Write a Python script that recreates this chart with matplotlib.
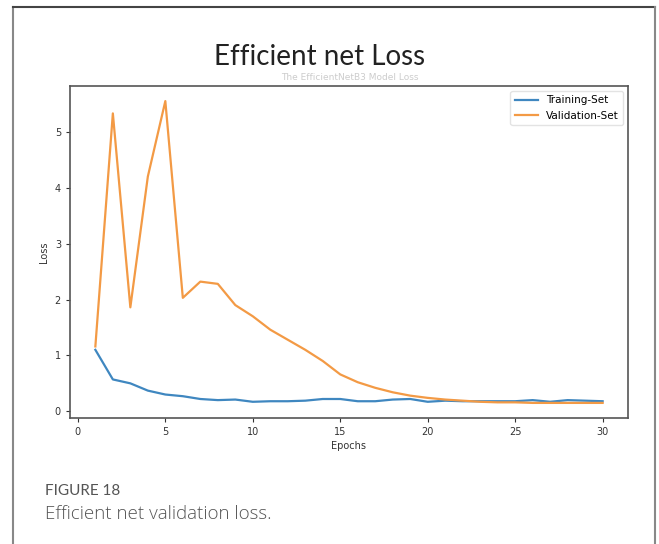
import numpy as np
import matplotlib
matplotlib.use('Agg')
import matplotlib.pyplot as plt
from matplotlib.lines import Line2D

# valeurs
epochs = list(range(1, 31))
train_loss = [1.10, 0.57, 0.50, 0.37, 0.30, 0.27, 0.22, 0.20, 0.21, 0.17,
              0.18, 0.18, 0.19, 0.22, 0.22, 0.18, 0.18, 0.21, 0.22, 0.17,
              0.19, 0.18, 0.18, 0.18, 0.18, 0.20, 0.17, 0.20, 0.19, 0.18]
val_loss = [1.16, 5.33, 1.86, 4.20, 5.55, 2.03, 2.32, 2.28, 1.90, 1.70,
            1.46, 1.28, 1.10, 0.90, 0.66, 0.52, 0.42, 0.34, 0.28, 0.24,
            0.21, 0.19, 0.17, 0.16, 0.16, 0.15, 0.15, 0.15, 0.15, 0.15]
x_ticks = [0, 5, 10, 15, 20, 25, 30]
y_ticks = [0, 1, 2, 3, 4, 5]

W, H = 659, 544
fig = plt.figure(figsize=(W / 100, H / 100), dpi=100)

# cadre exterieur (haut, gauche, droite)
fig.add_artist(Line2D([13 / W, 13 / W], [0, 1 - 7 / H], transform=fig.transFigure,
                      color='#888888', lw=1.5))
fig.add_artist(Line2D([13 / W, 655 / W], [1 - 7 / H, 1 - 7 / H], transform=fig.transFigure,
                      color='#444444', lw=1.5))
fig.add_artist(Line2D([655 / W, 655 / W], [0, 1 - 7 / H], transform=fig.transFigure,
                      color='#888888', lw=1.5))

ax = fig.add_axes([70 / W, 1 - 418 / H, (628 - 70) / W, (418 - 86) / H])
ax.plot(epochs, train_loss, color='#3f87c0', lw=1.6, label='Training-Set')
ax.plot(epochs, val_loss, color='#f39a45', lw=1.6, label='Validation-Set')
ax.set_xticks(x_ticks)
ax.set_yticks(y_ticks)
ax.tick_params(labelsize=7, colors='#333333', length=3)
for s in ax.spines.values():
    s.set_color('#555555')
    s.set_linewidth(1.2)
ax.set_xlabel('Epochs', fontsize=7, color='#333333', labelpad=3)
ax.set_ylabel('Loss', fontsize=7, color='#333333', labelpad=4)
leg = ax.legend(loc='upper right', fontsize=7.5, frameon=True, handlelength=2.2)
leg.get_frame().set_edgecolor('#dddddd')

fig.text(320 / W, 1 - 57 / H, 'Efficient net Loss', fontsize=20, family='Lato',
         ha='center', va='center', color='#222222')
fig.text(350 / W, 1 - 78 / H, 'The EfficientNetB3 Model Loss', fontsize=6.5,
         ha='center', va='center', color='#cccccc')

fig.text(45 / W, 1 - 491 / H, 'FIGURE 18', fontsize=11, family='Lato',
         ha='left', va='center', color='#555555')
fig.text(45 / W, 1 - 514 / H, 'Efficient net validation loss.', fontsize=13.5, family='Open Sans',
         fontweight='light', ha='left', va='center', color='#555555')

fig.savefig('out.png', dpi=100)
